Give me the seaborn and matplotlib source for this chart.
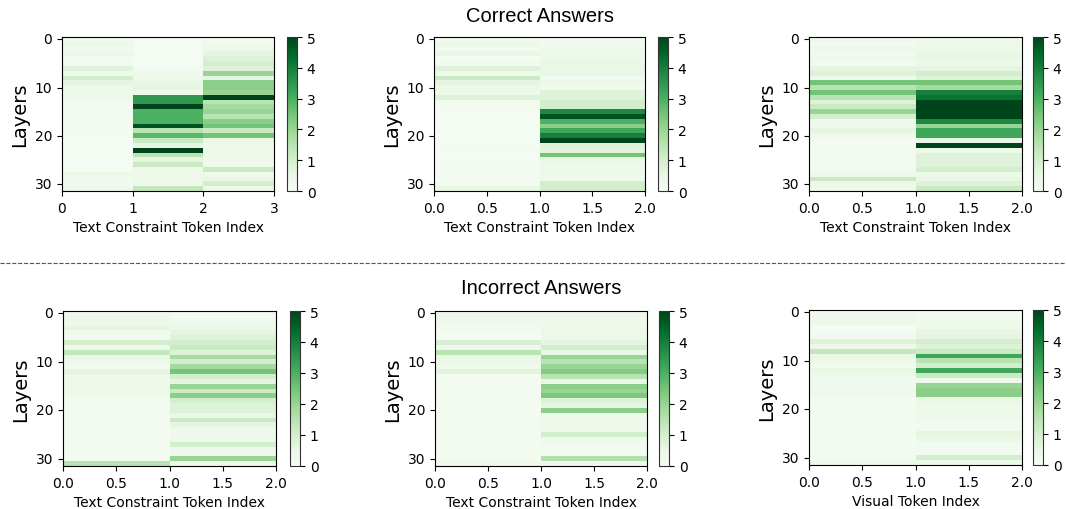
import numpy as np
import seaborn as sns
from matplotlib import pyplot as plt
from matplotlib.lines import Line2D

# attention contribution per layer (rows = layers 0..31, cols = token index)
# correct answers
c1_tok0 = [0.2, 0.4, 0.2, 0.4, 0.2, 0.2, 0.8, 0.3, 1.0, 0.6, 0.3, 0.3, 0.4, 0.2, 0.2, 0.2,
           0.2, 0.15, 0.15, 0.15, 0.15, 0.1, 0.1, 0.1, 0.1, 0.1, 0.1, 0.1, 0.4, 0.2, 0.2, 0.3]
c1_tok1 = [0.1, 0.1, 0.1, 0.1, 0.1, 0.1, 0.2, 0.3, 0.4, 0.5, 0.6, 0.3, 3.5, 3.5, 5.0, 3.0,
           3.0, 3.0, 4.8, 1.5, 2.8, 1.2, 0.6, 5.0, 1.5, 0.6, 1.2, 0.4, 0.4, 0.3, 0.3, 1.3]
c1_tok2 = [0.2, 0.3, 0.4, 0.6, 0.8, 1.0, 0.8, 2.0, 0.6, 2.2, 2.2, 2.0, 5.0, 1.5, 1.8, 2.0,
           1.5, 2.2, 2.5, 1.2, 2.5, 0.5, 0.3, 0.4, 0.3, 0.3, 0.3, 1.2, 0.3, 0.5, 1.0, 0.4]

c2_tok0 = [0.2, 0.4, 0.2, 0.5, 0.1, 0.2, 0.8, 0.3, 1.2, 0.6, 0.4, 0.4, 0.8, 0.2, 0.15, 0.15,
           0.1, 0.1, 0.1, 0.1, 0.1, 0.1, 0.1, 0.15, 0.1, 0.1, 0.15, 0.1, 0.15, 0.1, 0.15, 0.5]
c2_tok1 = [0.2, 0.2, 0.3, 0.4, 0.4, 0.5, 0.5, 0.5, 0.2, 0.4, 0.2, 0.8, 0.8, 1.0, 1.0, 3.8,
           4.8, 3.0, 2.2, 3.2, 4.0, 5.0, 0.8, 0.7, 2.5, 0.5, 0.4, 0.4, 0.3, 0.3, 1.0, 1.0]

c3_tok0 = [0.3, 0.2, 0.3, 0.2, 0.3, 0.2, 0.6, 0.8, 0.3, 2.5, 1.5, 2.5, 1.5, 0.8, 1.2, 2.0,
           1.0, 0.3, 0.3, 0.6, 0.3, 0.15, 0.15, 0.15, 0.15, 0.15, 0.15, 0.15, 0.3, 1.2, 0.4, 0.3]
c3_tok1 = [0.3, 0.4, 0.3, 0.5, 0.5, 0.4, 0.6, 1.0, 0.8, 2.5, 1.8, 4.0, 4.2, 5.0, 5.0, 5.0,
           5.0, 3.8, 2.0, 3.2, 3.2, 0.5, 5.0, 0.4, 0.8, 0.8, 0.8, 1.0, 0.4, 0.5, 0.8, 1.2]

# incorrect answers
i1_tok0 = [0.3, 0.4, 0.3, 0.6, 0.2, 0.2, 1.0, 0.4, 1.3, 0.5, 0.4, 0.2, 0.6, 0.3, 0.3, 0.4,
           0.4, 0.3, 0.2, 0.15, 0.15, 0.15, 0.15, 0.15, 0.15, 0.15, 0.15, 0.15, 0.15, 0.15, 0.15, 1.5]
i1_tok1 = [0.2, 0.2, 0.3, 0.4, 0.6, 0.8, 1.0, 1.2, 0.8, 1.8, 1.0, 1.8, 2.5, 1.0, 0.6, 2.0,
           1.2, 2.2, 1.0, 0.8, 0.8, 0.5, 1.2, 0.6, 0.3, 0.3, 0.4, 1.0, 0.3, 0.3, 2.0, 0.4]

i2_tok0 = [0.3, 0.3, 0.3, 0.2, 0.1, 0.1, 0.9, 0.3, 1.5, 0.5, 0.5, 0.3, 0.7, 0.15, 0.15, 0.15,
           0.15, 0.15, 0.15, 0.15, 0.15, 0.15, 0.15, 0.15, 0.15, 0.15, 0.15, 0.15, 0.15, 0.15, 0.15, 0.4]
i2_tok1 = [0.3, 0.3, 0.3, 0.4, 0.4, 0.4, 0.6, 1.0, 0.5, 2.0, 1.5, 2.0, 2.3, 1.5, 0.5, 2.2,
           2.0, 2.4, 0.8, 0.6, 2.2, 0.4, 0.3, 0.3, 0.3, 1.0, 0.3, 0.2, 0.2, 0.2, 1.6, 0.3]

i3_tok0 = [0.3, 0.3, 0.4, 0.1, 0.1, 0.2, 0.8, 0.3, 1.3, 0.5, 0.4, 0.2, 0.5, 0.3, 0.25, 0.25,
           0.25, 0.25, 0.15, 0.15, 0.15, 0.15, 0.15, 0.15, 0.15, 0.15, 0.15, 0.15, 0.15, 0.15, 0.15, 0.4]
i3_tok1 = [0.2, 0.2, 0.3, 0.3, 0.5, 0.6, 1.0, 0.8, 1.2, 3.2, 1.5, 1.0, 3.2, 1.2, 0.4, 2.0,
           2.2, 2.2, 0.5, 0.4, 0.3, 0.4, 0.3, 0.2, 0.2, 0.6, 0.5, 0.2, 0.2, 0.2, 1.0, 0.4]

panels = [
    ([c1_tok0, c1_tok1, c1_tok2], "Text Constraint Token Index"),
    ([c2_tok0, c2_tok1], "Text Constraint Token Index"),
    ([c3_tok0, c3_tok1], "Text Constraint Token Index"),
    ([i1_tok0, i1_tok1], "Text Constraint Token Index"),
    ([i2_tok0, i2_tok1], "Text Constraint Token Index"),
    ([i3_tok0, i3_tok1], "Visual Token Index"),
]

W, H = 1066, 510
fig = plt.figure(figsize=(W / 100, H / 100), dpi=100)

# pixel boxes (left, top, right, bottom) for heatmap and colorbar
ax_boxes = [(62, 38, 274, 192), (434, 38, 645, 192), (809, 38, 1022, 192),
            (63, 312, 276, 467), (435, 312, 647, 467), (809, 311, 1022, 466)]
cb_lefts = [287, 658, 1033, 290, 659, 1033]


def fig_rect(l, t, r, b):
    return [l / W, 1 - b / H, (r - l) / W, (b - t) / H]


for (cols, xlabel), box, cbl in zip(panels, ax_boxes, cb_lefts):
    data = np.array(cols).T  # shape (32 layers, n tokens)
    ax = fig.add_axes(fig_rect(*box))
    cax = fig.add_axes(fig_rect(cbl, box[1], cbl + 10, box[3]))
    sns.heatmap(data, ax=ax, cbar_ax=cax, cmap="Greens", vmin=0, vmax=5)

    n = data.shape[1]
    if n == 3:
        xt = [0, 1, 2, 3]
        ax.set_xticks(xt)
        ax.set_xticklabels([str(v) for v in xt], rotation=0, fontsize=10)
    else:
        xt = [0, 0.5, 1.0, 1.5, 2.0]
        ax.set_xticks(xt)
        ax.set_xticklabels([f"{v:.1f}" for v in xt], rotation=0, fontsize=10)
    ax.set_yticks([0.5, 10.5, 20.5, 30.5])
    ax.set_yticklabels(["0", "10", "20", "30"], rotation=0, fontsize=10)
    ax.set_xlabel(xlabel, fontsize=10)
    ax.set_ylabel("Layers", fontsize=14)
    for sp in ax.spines.values():
        sp.set_visible(True)
        sp.set_color("black")
        sp.set_linewidth(0.8)

    cbar = ax.collections[0].colorbar
    cbar.set_ticks([0, 1, 2, 3, 4, 5])
    cbar.ax.tick_params(labelsize=10)
    cbar.outline.set_visible(True)
    cbar.outline.set_edgecolor("#333333")
    cbar.outline.set_linewidth(0.8)

# group titles and separator
fig.text(540 / W, 1 - 16 / H, "Correct Answers", ha="center", va="center",
         fontsize=14.5, family="Liberation Sans")
fig.text(541 / W, 1 - 289 / H, "Incorrect Answers", ha="center", va="center",
         fontsize=14.5, family="Liberation Sans")
fig.add_artist(Line2D([0, 1], [1 - 264 / H, 1 - 264 / H], color="#555555",
                      linestyle="--", linewidth=0.8, transform=fig.transFigure))

fig.savefig("out.png", dpi=100)
